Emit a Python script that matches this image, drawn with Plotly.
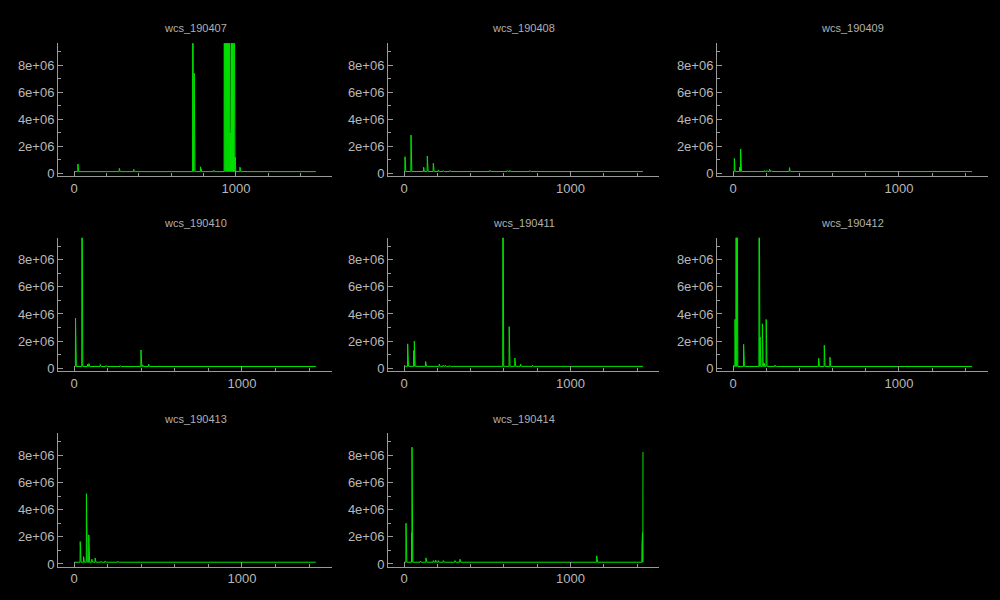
import plotly.graph_objects as go

# ---------------- data ----------------
days = ["wcs_190407", "wcs_190408", "wcs_190409", "wcs_190410",
        "wcs_190411", "wcs_190412", "wcs_190413", "wcs_190414"]

# number of samples per day
lengths = [1495, 1437, 1441, 1441, 1437, 1441, 1441, 1437]

# typical (flat) baseline level of each day
baselines = [1.25e5, 1.3e5, 1.3e5, 1.3e5, 1.4e5, 1.3e5, 1.3e5, 1.3e5]

# spikes: (sample index, value)
spikes_190407 = [(23, 0.69e6), (120, 0.18e6), (279, 0.37e6), (368, 0.30e6),
                 (733, 2.0e7), (735, 2.0e7), (737, 2.0e7), (742, 7.4e6),
                 (781, 0.48e6), (786, 0.30e6), (864, 0.22e6),
                 (928, 2.0e7), (930, 2.0e7), (932, 2.0e7), (934, 2.0e7),
                 (936, 2.0e7), (938, 2.0e7), (940, 2.0e7), (942, 2.0e7),
                 (944, 2.0e7), (946, 2.0e7), (948, 2.0e7), (950, 2.0e7),
                 (952, 2.0e7), (954, 9.0e6), (956, 2.0e7), (958, 2.0e7),
                 (961, 1.5e6), (964, 3.0e6), (967, 1.5e6), (970, 9.5e6),
                 (973, 2.0e7), (975, 2.0e7), (977, 2.0e7), (979, 2.0e7),
                 (981, 2.0e7), (983, 2.0e7), (985, 2.0e7), (987, 1.2e6),
                 (989, 2.0e7), (991, 2.0e7), (996, 1.2e6), (1025, 0.45e6)]
spikes_190408 = [(6, 1.23e6), (42, 2.83e6), (118, 0.45e6), (140, 1.28e6),
                 (176, 0.74e6), (206, 0.25e6), (236, 0.20e6), (276, 0.20e6),
                 (516, 0.22e6), (620, 0.20e6), (636, 0.22e6), (756, 0.20e6),
                 (880, 0.18e6), (1390, 0.17e6)]
spikes_190409 = [(8, 1.10e6), (40, 0.45e6), (46, 1.80e6), (130, 0.18e6),
                 (190, 0.20e6), (205, 0.20e6), (220, 0.30e6), (230, 0.20e6),
                 (340, 0.42e6)]
spikes_190410 = [(8, 3.70e6), (46, 2.0e7), (80, 0.30e6), (88, 0.35e6),
                 (155, 0.28e6), (190, 0.20e6), (274, 0.20e6), (398, 1.35e6),
                 (402, 1.35e6), (408, 0.25e6), (444, 0.30e6)]
spikes_190411 = [(4, 0.22e6), (22, 1.80e6), (25, 1.78e6), (58, 1.30e6),
                 (62, 2.00e6), (130, 0.50e6), (160, 0.18e6), (212, 0.30e6),
                 (236, 0.22e6), (248, 0.22e6), (274, 0.20e6), (594, 2.0e7),
                 (632, 3.07e6), (666, 0.76e6), (700, 0.30e6), (736, 0.17e6),
                 (772, 0.22e6)]
spikes_190412 = [(4, 0.22e6), (12, 3.60e6), (15, 1.90e6), (18, 2.0e7),
                 (20, 2.0e7), (22, 2.0e6), (24, 2.0e7), (26, 2.7e6),
                 (28, 7.6e6), (64, 1.76e6), (157, 2.0e7), (163, 2.30e6),
                 (177, 3.28e6), (183, 0.40e6), (190, 0.35e6), (200, 3.60e6),
                 (250, 0.22e6), (256, 0.20e6), (516, 0.74e6), (550, 1.70e6),
                 (584, 0.81e6), (1260, 0.17e6)]
spikes_190413 = [(36, 1.65e6), (56, 0.54e6), (73, 5.17e6), (87, 2.14e6),
                 (105, 0.35e6), (125, 0.44e6), (160, 0.20e6), (185, 0.22e6),
                 (195, 0.18e6), (260, 0.20e6), (290, 0.18e6)]
spikes_190414 = [(12, 3.00e6), (46, 2.30e6), (48, 8.60e6), (98, 0.22e6),
                 (132, 0.45e6), (176, 0.25e6), (190, 0.28e6), (206, 0.25e6),
                 (236, 0.25e6), (306, 0.25e6), (336, 0.35e6), (1158, 0.60e6),
                 (1430, 1.35e6), (1433, 2.30e6), (1436, 8.25e6)]

spikes = [spikes_190407, spikes_190408, spikes_190409, spikes_190410,
          spikes_190411, spikes_190412, spikes_190413, spikes_190414]

ytick_vals = [0, 2e6, 4e6, 6e6, 8e6]
ytick_text = ["0", "2e+06", "4e+06", "6e+06", "8e+06"]
xtick_vals = [0, 1000]
xtick_text = ["0", "1000"]

# ---------------- layout geometry (pixels) ----------------
W, H = 1000, 600
col_px = [(58, 332), (388, 659), (717, 988)]
row_px = [(43.3, 176), (237.7, 371), (433.3, 566.7)]
title_y_px = [28, 223, 419]

LINE = "rgb(0,228,0)"
AXIS = "#9a9a9a"
TICKFONT = dict(family="Liberation Sans, Arial, sans-serif", size=13, color="#b8b8b8")
TITLEFONT = dict(family="Liberation Sans, Arial, sans-serif", size=11, color="#b0b0b0")

fig = go.Figure()
annotations = []
layout_axes = {}

for k, name in enumerate(days):
    r, c = divmod(k, 3)
    n = lengths[k]
    ys = [baselines[k]] * n
    for idx, val in spikes[k]:
        ys[idx] = val
    xs = list(range(n))
    suf = "" if k == 0 else str(k + 1)
    fig.add_trace(go.Scatter(x=xs, y=ys, mode="lines",
                             line=dict(color=LINE, width=1),
                             xaxis="x" + suf, yaxis="y" + suf,
                             showlegend=False, hoverinfo="skip"))
    x0, x1 = col_px[c]
    y0, y1 = row_px[r]
    pad = 0.067 * (n - 1)
    layout_axes["xaxis" + suf] = dict(
        domain=[x0 / W, x1 / W], anchor="y" + suf,
        range=[-pad, (n - 1) + pad],
        showgrid=False, zeroline=False, showline=True, linecolor=AXIS, linewidth=1,
        tickmode="array", tickvals=xtick_vals, ticktext=xtick_text,
        ticks="inside", ticklen=5, tickcolor=AXIS, tickfont=TICKFONT,
        minor=dict(ticks="inside", ticklen=3, tickcolor=AXIS, tickmode="linear",
                   tick0=0, dtick=200, showgrid=False),
        automargin=False, fixedrange=True,
    )
    layout_axes["yaxis" + suf] = dict(
        domain=[1 - y1 / H, 1 - y0 / H], anchor="x" + suf,
        range=[-0.2e6, 9.62e6],
        showgrid=False, zeroline=False, showline=True, linecolor=AXIS, linewidth=1,
        tickmode="array", tickvals=ytick_vals, ticktext=ytick_text,
        ticks="inside", ticklen=5, tickcolor=AXIS, tickfont=TICKFONT,
        minor=dict(ticks="inside", ticklen=3, tickcolor=AXIS, tickmode="linear",
                   tick0=0, dtick=1e6, showgrid=False),
        automargin=False, fixedrange=True,
    )
    annotations.append(dict(
        text=name, x=(x0 + x1) / 2 / W, y=1 - title_y_px[r] / H,
        xref="paper", yref="paper", xanchor="center", yanchor="middle",
        showarrow=False, font=TITLEFONT,
    ))

fig.update_layout(
    width=W, height=H,
    margin=dict(l=0, r=0, t=0, b=0),
    paper_bgcolor="black", plot_bgcolor="black",
    annotations=annotations,
    **layout_axes,
)

fig.write_html(
    "out.html",
    config={"displayModeBar": False},
    post_script="document.body.style.margin='0';document.body.style.background='black';"
                "document.documentElement.style.overflow='hidden';",
)
